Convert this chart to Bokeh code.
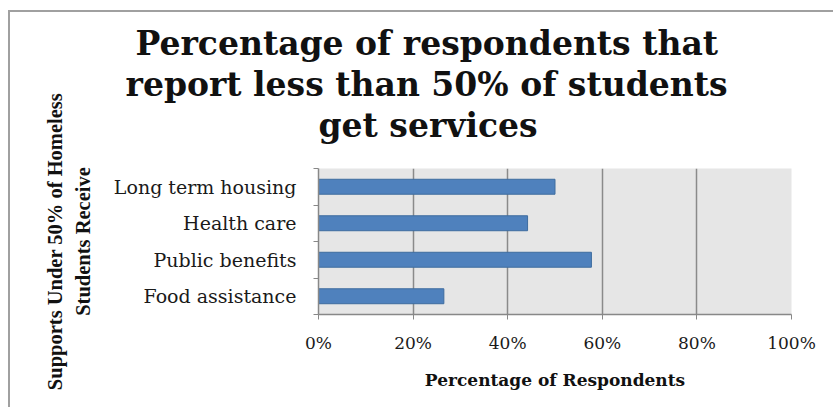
from bokeh.plotting import figure
from bokeh.models import (Range1d, FixedTicker, NumeralTickFormatter, Title,
                          ColumnDataSource)
from bokeh.embed import file_html
from bokeh.resources import INLINE

# ---- data ----
categories = ["Food assistance", "Public benefits", "Health care", "Long term housing"]
values = [0.265, 0.577, 0.442, 0.50]
x_ticks = [0, 0.2, 0.4, 0.6, 0.8, 1.0]
title_lines = ["Percentage of respondents that",
               "report less than 50% of students",
               "get services"]
y_title = "Supports Under 50% of Homeless\nStudents Receive"
x_title = "Percentage of Respondents"

ypos = [i + 0.5 for i in range(len(categories))]
src = ColumnDataSource(dict(y=ypos, v=values, cat=categories))

# figure sits inside a border starting at window (8, 10)
OX, OY, BW = 8, 10, 2
W, H = 835 - OX - BW, 409 - OY - BW
FL, FR, FT, FB = 318 - OX - BW, 791 - OX - BW, 168 - OY - BW, 314 - OY - BW

p = figure(width=W, height=H, output_backend="svg", toolbar_location=None,
           x_range=Range1d(0, 1), y_range=Range1d(0, len(categories)),
           min_border_left=FL, min_border_right=W - FR,
           min_border_top=FT, min_border_bottom=H - FB)
p.styles = {"margin-left": f"{OX}px", "margin-top": f"{OY}px",
            "border-left": f"{BW}px solid #a0a0a0",
            "border-top": f"{BW}px solid #a0a0a0"}
p.background_fill_color = "#e6e6e6"
p.border_fill_color = "white"
p.outline_line_color = None

p.hbar(y="y", right="v", left=0, height=0.41, source=src,
       fill_color="#4f81bd", line_color="#3e6c9f", line_width=1)

# x axis
xa = p.xaxis[0]
xa.ticker = FixedTicker(ticks=x_ticks)
xa.formatter = NumeralTickFormatter(format="0%")
xa.axis_line_color = "#888888"
xa.axis_line_width = 1.5
xa.major_tick_line_color = "#888888"
xa.major_tick_out = 5
xa.major_tick_in = 0
xa.minor_tick_line_color = None
xa.major_label_text_font = "DejaVu Serif"
xa.major_label_text_font_size = "17px"
xa.major_label_text_color = "#1a1a1a"
xa.major_label_standoff = 13
xa.axis_label = x_title
xa.axis_label_text_font = "DejaVu Serif"
xa.axis_label_text_font_style = "bold"
xa.axis_label_text_font_size = "17px"
xa.axis_label_text_color = "#111111"
xa.axis_label_standoff = 14

# y axis: labels at bar centres, ticks at category boundaries
ya = p.yaxis[0]
ya.ticker = FixedTicker(ticks=ypos, minor_ticks=list(range(len(categories) + 1)))
ya.major_label_overrides = {y: c for y, c in zip(ypos, categories)}
ya.axis_line_color = "#888888"
ya.axis_line_width = 1.5
ya.major_tick_line_color = None
ya.major_tick_out = 0
ya.major_tick_in = 0
ya.minor_tick_line_color = "#888888"
ya.minor_tick_out = 5
ya.minor_tick_in = 0
ya.major_label_text_font = "DejaVu Serif"
ya.major_label_text_font_size = "19px"
ya.major_label_text_color = "#1a1a1a"
ya.major_label_standoff = 17
ya.axis_label = y_title
ya.axis_label_text_font = "Liberation Serif"
ya.axis_label_text_font_style = "bold"
ya.axis_label_text_font_size = "20.5px"
ya.axis_label_text_color = "#111111"
ya.axis_label_standoff = 17
ya.axis_label_text_line_height = 1.25

p.xgrid.ticker = FixedTicker(ticks=x_ticks)
p.xgrid.grid_line_color = "#8a8a8a"
p.xgrid.grid_line_width = 1.5
p.ygrid.grid_line_color = None

# spacer between the title block and the plot area
p.add_layout(Title(text=" ", standoff=19, text_font_size="1px"), "above")
# title lines, stacked above the plot (bottom line added first)
offsets = [-183, -193, 0]
for line, off in reversed(list(zip(title_lines, offsets))):
    p.add_layout(Title(text=line, align="left", offset=off, standoff=0,
                       vertical_align="top",
                       text_font="DejaVu Serif", text_font_style="bold",
                       text_font_size="33px", text_color="#111111"), "above")

open("out.html", "w").write(file_html(p, INLINE))
